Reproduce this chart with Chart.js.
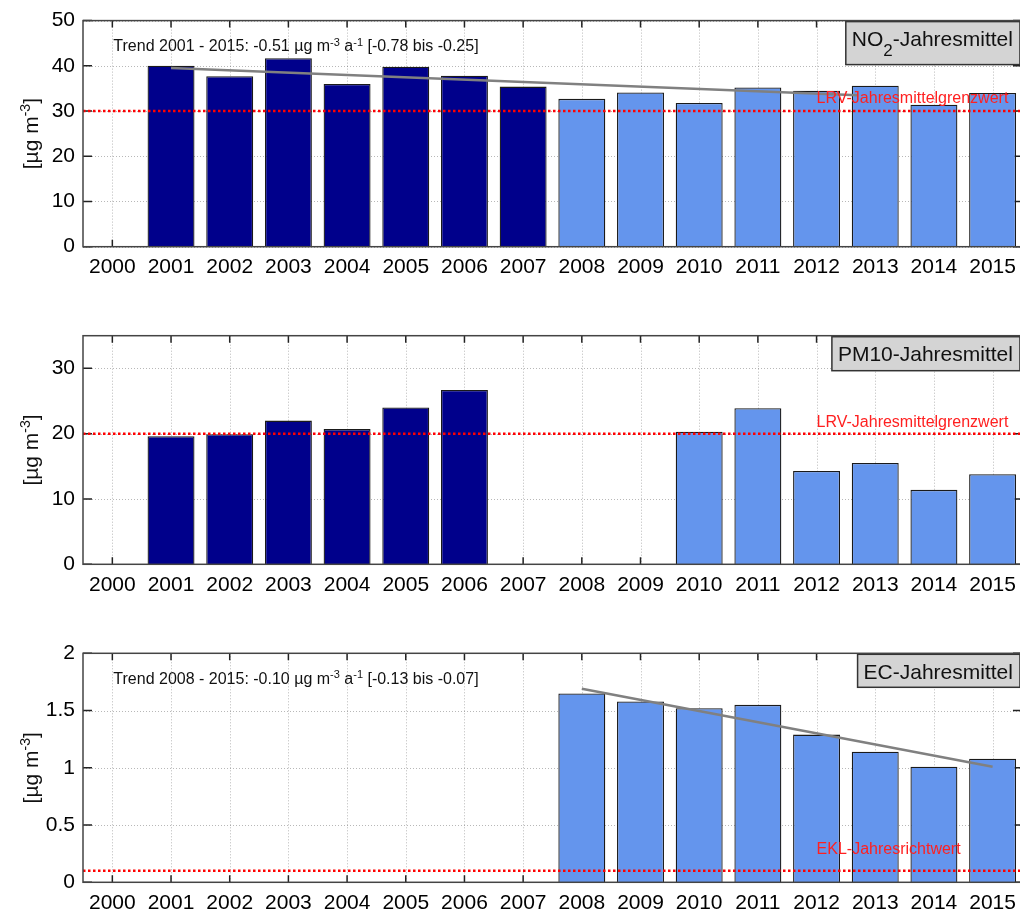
<!DOCTYPE html>
<html>
<head>
<meta charset="utf-8">
<script src="https://cdn.jsdelivr.net/npm/chart.js@4.4.0/dist/chart.umd.min.js"></script>
<style>
  html, body { margin: 0; padding: 0; background: #fff; overflow: hidden; width: 1020px; height: 913px; }
  canvas { position: absolute; left: 0; }
</style>
</head>
<body>
<canvas id="no2" width="1024" height="300" style="top:0px"></canvas>
<canvas id="pm10" width="1024" height="310" style="top:300px"></canvas>
<canvas id="ec" width="1024" height="303" style="top:610px"></canvas>
<script>
// Years on the category axis
const years = ['2000','2001','2002','2003','2004','2005','2006','2007','2008','2009','2010','2011','2012','2013','2014','2015'];

// Annual means [µg m-3]
const no2Means  = [null, 40.0, 37.7, 41.7, 36.0, 39.8, 37.8, 35.4, 32.7, 34.1, 31.8, 35.2, 34.5, 35.6, 31.4, 34.0];
const pm10Means = [null, 19.6, 19.9, 22.0, 20.7, 24.0, 26.7, null, null, null, 20.3, 23.9, 14.3, 15.5, 11.4, 13.8];
const ecMeans   = [null, null, null, null, null, null, null, null, 1.65, 1.58, 1.52, 1.55, 1.29, 1.14, 1.01, 1.08];

// Fitted trend lines (start / end points: year, value)
const no2Trend = [[2001, 39.5], [2012.7, 33.5]];
const ecTrend  = [[2008, 1.69], [2015, 1.01]];

// Limit / guide values
const no2Limit = 30;
const pm10Limit = 20;
const ecGuide = 0.1;

// Y-axis ticks
const no2Ticks  = [0, 10, 20, 30, 40, 50];
const pm10Ticks = [0, 10, 20, 30];
const ecTicks   = [0, 0.5, 1, 1.5, 2];

// Texts
const no2Title  = [['NO', ''], ['2', '_'], ['-Jahresmittel', '']];
const pm10Title = [['PM10-Jahresmittel', '']];
const ecTitle   = [['EC-Jahresmittel', '']];
const no2TrendText = [['Trend 2001 - 2015: -0.51 \u00b5g m', ''], ['-3', '^'], [' a', ''], ['-1', '^'], [' [-0.78 bis -0.25]', '']];
const ecTrendText  = [['Trend 2008 - 2015: -0.10 \u00b5g m', ''], ['-3', '^'], [' a', ''], ['-1', '^'], [' [-0.13 bis -0.07]', '']];
const lrvLabel = 'LRV-Jahresmittelgrenzwert';
const eklLabel = 'EKL-Jahresrichtwert';
const unitLabel = [['[\u00b5g m', ''], ['-3', '^'], [']', '']];

const FONT = '"Liberation Sans", Arial, Helvetica, sans-serif';
Chart.defaults.font.family = FONT;

const DARK = '#00008b';
const LIGHT = '#6495ed';
const FIRST_YEAR = Number(years[0]);
const barColour = y => (Number(y) < 2008 ? DARK : LIGHT);

function fontStr(size) { return size + 'px ' + FONT; }

function segStyle(kind, size) {
  if (kind === '^') return { size: Math.round(size * 0.66), dy: -size * 0.36 };
  if (kind === '_') return { size: Math.round(size * 0.8), dy: size * 0.47 };
  return { size: size, dy: 0 };
}

function richWidth(ctx, segs, size) {
  let w = 0;
  for (const [t, k] of segs) {
    ctx.font = fontStr(segStyle(k, size).size);
    w += ctx.measureText(t).width;
  }
  return w;
}

function drawRich(ctx, segs, x, y, size, color) {
  ctx.fillStyle = color;
  ctx.textBaseline = 'alphabetic';
  ctx.textAlign = 'left';
  for (const [t, k] of segs) {
    const st = segStyle(k, size);
    ctx.font = fontStr(st.size);
    ctx.fillText(t, x, y + st.dy);
    x += ctx.measureText(t).width;
  }
}

// pixel of a (possibly fractional) year on the category axis
function yearPx(xs, year) { return xs.getPixelForValue(year - FIRST_YEAR); }

const panelDecor = {
  id: 'panelDecor',
  beforeDatasetsDraw(chart, args, o) {
    const { ctx, chartArea: a, scales } = chart;
    const xs = scales.x, ys = scales.y;
    ctx.save();
    // dotted grid
    ctx.strokeStyle = 'rgba(0,0,0,0.28)';
    ctx.lineWidth = 1;
    ctx.setLineDash([1, 2]);
    ctx.beginPath();
    years.forEach((_, i) => {
      const x = Math.round(xs.getPixelForTick(i)) + 0.5;
      ctx.moveTo(x, a.top); ctx.lineTo(x, a.bottom);
    });
    ys.ticks.forEach(t => {
      const y = Math.round(ys.getPixelForValue(t.value)) + 0.5;
      ctx.moveTo(a.left, y); ctx.lineTo(a.right, y);
    });
    ctx.stroke();
    // inward tick marks
    ctx.setLineDash([]);
    ctx.strokeStyle = '#222';
    ctx.lineWidth = 1.5;
    ctx.beginPath();
    years.forEach((_, i) => {
      const x = xs.getPixelForTick(i);
      ctx.moveTo(x, a.top); ctx.lineTo(x, a.top + 7);
      ctx.moveTo(x, a.bottom); ctx.lineTo(x, a.bottom - 7);
    });
    ys.ticks.forEach(t => {
      const y = ys.getPixelForValue(t.value);
      ctx.moveTo(a.left, y); ctx.lineTo(a.left + 9, y);
      ctx.moveTo(a.right, y); ctx.lineTo(a.right - 9, y);
    });
    ctx.stroke();
    ctx.restore();
  },
  afterDatasetsDraw(chart, args, o) {
    const { ctx, chartArea: a, scales } = chart;
    const xs = scales.x, ys = scales.y;
    ctx.save();
    // trend line
    if (o.trend) {
      ctx.strokeStyle = '#808080';
      ctx.lineWidth = 2.5;
      ctx.beginPath();
      o.trend.forEach(([yr, v], i) => {
        const px = yearPx(xs, yr), py = ys.getPixelForValue(v);
        if (i === 0) ctx.moveTo(px, py); else ctx.lineTo(px, py);
      });
      ctx.stroke();
    }
    // limit line (red dotted)
    const ly = ys.getPixelForValue(o.limit);
    ctx.strokeStyle = '#ff0000';
    ctx.lineWidth = 2.5;
    ctx.setLineDash([2.5, 2.5]);
    ctx.beginPath();
    ctx.moveTo(a.left, ly); ctx.lineTo(a.right, ly);
    ctx.stroke();
    ctx.setLineDash([]);
    // limit label
    ctx.font = fontStr(16);
    ctx.fillStyle = '#ff2020';
    ctx.textAlign = 'left';
    ctx.textBaseline = 'alphabetic';
    ctx.fillText(o.limitLabel, yearPx(xs, 2012), ly - o.labelLift);
    // trend text
    if (o.trendText) {
      drawRich(ctx, o.trendText, yearPx(xs, 2000) + 1, a.top + 30.7, 16, '#111');
    }
    // title box
    const tw = richWidth(ctx, o.title, 21);
    const bw = tw + 13, bh = o.boxH;
    const bx = a.right - 2 - bw, by = a.top + 1;
    ctx.fillStyle = '#d4d4d4';
    ctx.fillRect(bx, by, bw, bh);
    ctx.strokeStyle = '#333';
    ctx.lineWidth = 1.5;
    ctx.strokeRect(bx, by, bw, bh);
    drawRich(ctx, o.title, bx + 6, by + 24.4, 21, '#111');
    // plot box
    ctx.strokeStyle = '#444';
    ctx.lineWidth = 1.5;
    ctx.strokeRect(a.left, a.top, a.right - a.left, a.bottom - a.top);
    // y title, rotated
    const uw = richWidth(ctx, unitLabel, 21);
    ctx.translate(38, (a.top + a.bottom) / 2);
    ctx.rotate(-Math.PI / 2);
    drawRich(ctx, unitLabel, -uw / 2, 0, 21, '#111');
    ctx.restore();
  }
};

function makePanel(id, cfg) {
  return new Chart(document.getElementById(id), {
    type: 'bar',
    data: {
      labels: years,
      datasets: [{
        data: cfg.values,
        backgroundColor: years.map(barColour), borderColor: '#1a1a1a', borderWidth: 1.3,
        barPercentage: 0.8, categoryPercentage: 1
      }]
    },
    options: {
      responsive: false, animation: false, events: [],
      layout: { padding: { top: cfg.padTop, bottom: cfg.padBottom, left: 0, right: 1 } },
      plugins: {
        legend: { display: false }, tooltip: { enabled: false },
        panelDecor: cfg.decor
      },
      scales: {
        x: {
          type: 'category', offset: true,
          grid: { display: false, drawTicks: false }, border: { display: false },
          ticks: { font: { size: 21 }, color: '#000', padding: 8, maxRotation: 0, autoSkip: false },
          afterFit: s => { s.height = cfg.xHeight; }
        },
        y: {
          min: cfg.yTicks[0], max: cfg.yMax,
          grid: { display: false, drawTicks: false }, border: { display: false },
          ticks: { font: { size: 21 }, color: '#000', padding: 8, callback: v => String(v) },
          afterBuildTicks: s => { s.ticks = cfg.yTicks.map(v => ({ value: v })); },
          afterFit: s => { s.width = 83; }
        }
      }
    },
    plugins: [panelDecor]
  });
}

makePanel('no2', {
  values: no2Means, yTicks: no2Ticks, yMax: 50,
  padTop: 17.7, padBottom: 13.3, xHeight: 40,
  decor: { trend: no2Trend, limit: no2Limit, limitLabel: lrvLabel, labelLift: 8.3, trendText: no2TrendText, title: no2Title, boxH: 43 }
});
makePanel('pm10', {
  values: pm10Means, yTicks: pm10Ticks, yMax: 35,
  padTop: 35.7, padBottom: 5.7, xHeight: 40,
  decor: { limit: pm10Limit, limitLabel: lrvLabel, labelLift: 6.3, title: pm10Title, boxH: 34 }
});
makePanel('ec', {
  values: ecMeans, yTicks: ecTicks, yMax: 2,
  padTop: 43.3, padBottom: 0.7, xHeight: 30,
  decor: { trend: ecTrend, limit: ecGuide, limitLabel: eklLabel, labelLift: 16.8, trendText: ecTrendText, title: ecTitle, boxH: 33 }
});
</script>
</body>
</html>
